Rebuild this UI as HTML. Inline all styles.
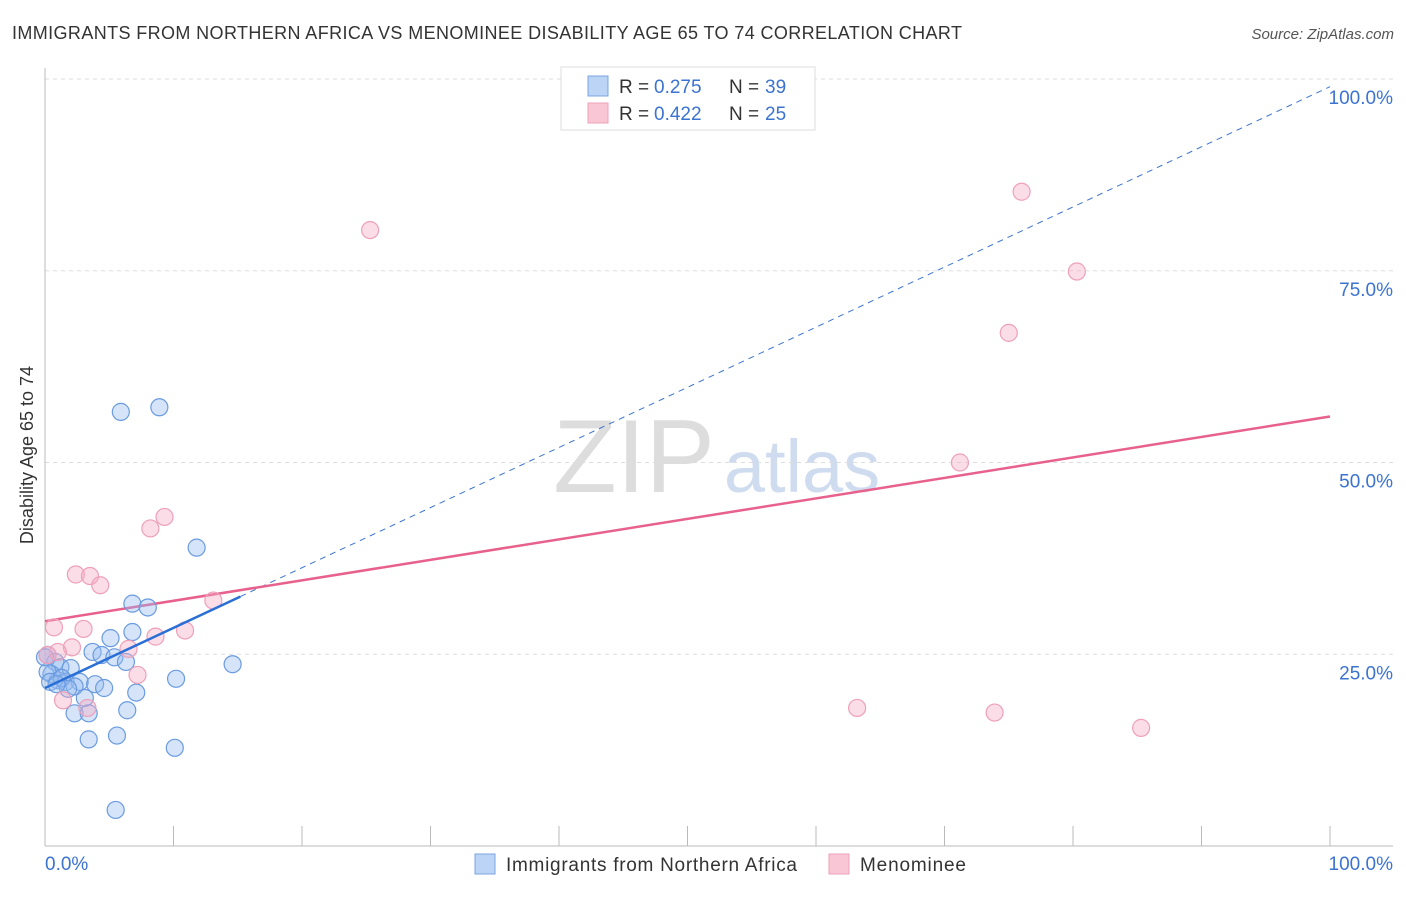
<!DOCTYPE html>
<html><head><meta charset="utf-8"><style>
body{margin:0;background:#fff;font-family:"Liberation Sans",sans-serif}
svg text{font-family:"Liberation Sans",sans-serif}
</style></head><body>
<svg width="1406" height="892" viewBox="0 0 1406 892" xmlns="http://www.w3.org/2000/svg">
<text x="12" y="39" font-size="18" fill="#333" textLength="950">IMMIGRANTS FROM NORTHERN AFRICA VS MENOMINEE DISABILITY AGE 65 TO 74 CORRELATION CHART</text>
<text x="1394" y="39" font-size="15" fill="#555" font-style="italic" text-anchor="end">Source: ZipAtlas.com</text>
<text x="634" y="492" font-size="104" fill="#ddd" font-family="Liberation Serif" text-anchor="middle">ZIP</text>
<text x="802" y="492" font-size="74" fill="#cfdcf0" text-anchor="middle">atlas</text>
<g id="grid"></g>
<line x1="45" y1="68" x2="45" y2="846" stroke="#bbb"/>
<line x1="45" y1="846" x2="1393" y2="846" stroke="#bbb"/>
<g id="xticks"></g>
<text x="33" y="455" font-size="18" fill="#333" text-anchor="middle" transform="rotate(-90 33 455)">Disability Age 65 to 74</text>
<text x="45" y="870" font-size="19" fill="#3b73d1">0.0%</text>
<text x="1393" y="870" font-size="19" fill="#3b73d1" text-anchor="end">100.0%</text>
<g id="lines"></g>
<g id="points"></g>
<g>
<rect x="561" y="67" width="254" height="63" fill="#fff" stroke="#ddd"/>
<rect x="588" y="76" width="20" height="20" fill="#bcd4f5" stroke="#7aa4e0"/>
<rect x="588" y="103" width="20" height="20" fill="#f9c6d6" stroke="#eea0b8"/>
<text x="619" y="93" font-size="19" fill="#333">R = </text><text x="654" y="93" font-size="19" fill="#3b73d1">0.275</text>
<text x="729" y="93" font-size="19" fill="#333">N = </text><text x="765" y="93" font-size="19" fill="#3b73d1">39</text>
<text x="619" y="120" font-size="19" fill="#333">R = </text><text x="654" y="120" font-size="19" fill="#3b73d1">0.422</text>
<text x="729" y="120" font-size="19" fill="#333">N = </text><text x="765" y="120" font-size="19" fill="#3b73d1">25</text>
</g>
<g>
<rect x="475" y="854" width="20" height="20" fill="#bcd4f5" stroke="#7aa4e0"/>
<text x="506" y="871" font-size="19" fill="#333" textLength="291">Immigrants from Northern Africa</text>
<rect x="829" y="854" width="20" height="20" fill="#f9c6d6" stroke="#eea0b8"/>
<text x="860" y="871" font-size="19" fill="#333" textLength="106">Menominee</text>
</g>
</svg>
<script>
const blueX=[5.9,8.9,11.8,6.8,8.0,6.8,5.1,3.7,4.4,5.4,6.3,14.6,0.2,0.8,1.2,2.0,0.5,1.0,1.6,2.7,3.9,4.6,2.3,3.1,7.1,10.2,6.4,2.3,3.4,3.4,5.6,10.1,5.5,0.2,0.4,1.3,1.8,0.0,0.9];
const blueY=[56.6,57.2,38.9,31.6,31.1,27.9,27.1,25.3,24.9,24.6,24.0,23.7,24.9,24.0,23.3,23.2,22.4,21.6,21.4,21.4,21.1,20.6,20.8,19.3,20.0,21.8,17.7,17.3,17.3,13.9,14.4,12.8,4.7,22.7,21.4,21.9,20.5,24.6,21.1];
const pinkX=[25.3,76.0,80.3,75.0,71.2,63.2,73.9,85.3,9.3,8.2,2.4,3.5,4.3,13.1,10.9,8.6,0.7,3.0,2.1,6.5,1.0,0.2,7.2,1.4,3.3];
const pinkY=[80.3,85.3,74.9,66.9,50.0,18.0,17.4,15.4,42.9,41.4,35.4,35.2,34.0,32.0,28.1,27.3,28.5,28.3,25.9,25.7,25.3,24.9,22.3,19.0,18.0];
const blueLine=[20.6,99.0], blueSolidEnd=15.2;
const pinkLine=[29.3,56.0];
const yTicks=[25,50,75,100];
const X=v=>45+v*12.85, Y=v=>846-v*7.67;
const NS="http://www.w3.org/2000/svg";
function mk(t,a,p){const e=document.createElementNS(NS,t);for(const k in a)e.setAttribute(k,a[k]);document.getElementById(p).appendChild(e);return e;}
yTicks.forEach(t=>{
 const l=mk('line',{x1:45,x2:1393,y1:Y(t),y2:Y(t),stroke:'#ddd','stroke-dasharray':'4 4'},'grid');
 
 
 const tx=mk('text',{x:1393,y:Y(t)+25,'font-size':19,fill:'#3b73d1','text-anchor':'end'},'grid');
 tx.textContent=t.toFixed(1)+'%';
 
 
});
for(let i=1;i<=10;i++){
 const l=mk('line',{x1:X(i*10),x2:X(i*10),y1:826,y2:846,stroke:'#bbb'},'xticks');
 
 
}
const pb=(x)=>blueLine[0]+(blueLine[1]-blueLine[0])*x/100;
const pp=(x)=>pinkLine[0]+(pinkLine[1]-pinkLine[0])*x/100;
let l=mk('line',{x1:X(blueSolidEnd),y1:Y(pb(blueSolidEnd)),x2:X(100),y2:Y(pb(100)),stroke:'#3b73d1','stroke-dasharray':'6 5','stroke-width':1},'lines');


l=mk('line',{x1:X(0),y1:Y(pp(0)),x2:X(100),y2:Y(pp(100)),stroke:'#e8608c','stroke-width':2.5},'lines');


blueX.forEach((x,i)=>{const c=mk('circle',{cx:X(x),cy:Y(blueY[i]),r:8.5,fill:'rgba(150,188,240,0.4)',stroke:'#6a9be0','stroke-width':1.2},'points');
 
 });
pinkX.forEach((x,i)=>{const c=mk('circle',{cx:X(x),cy:Y(pinkY[i]),r:8.5,fill:'rgba(245,170,195,0.4)',stroke:'#eea0b8','stroke-width':1.2},'points');
 
 });
l=mk('line',{x1:X(0),y1:Y(pb(0)),x2:X(blueSolidEnd),y2:Y(pb(blueSolidEnd)),stroke:'#2a6fd6','stroke-width':2.5},'points');


</script>
</body></html>
